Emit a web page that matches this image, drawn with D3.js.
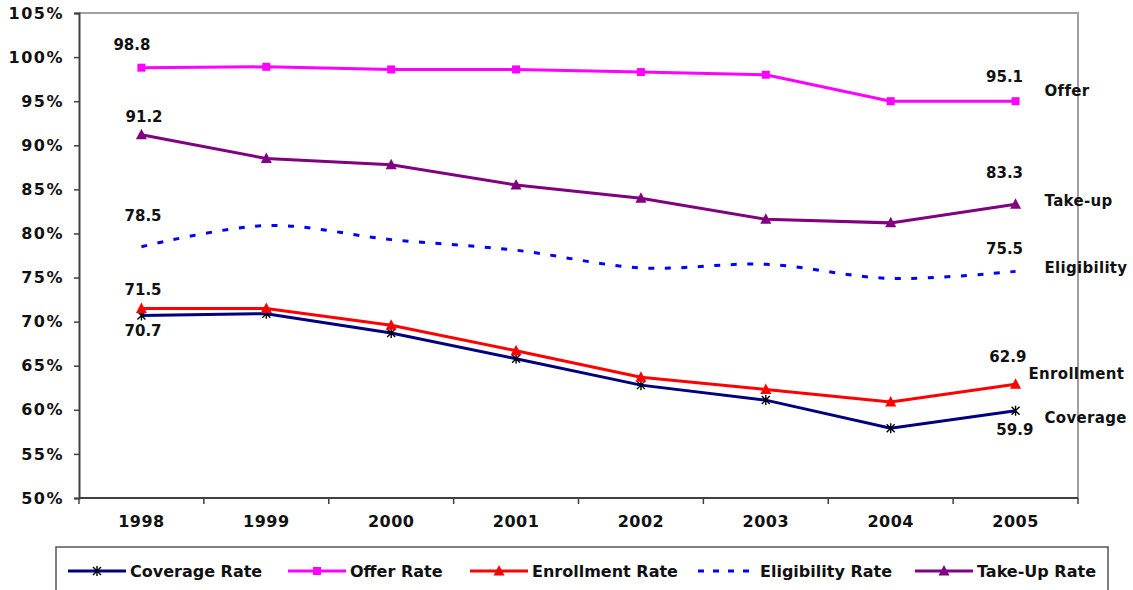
<!DOCTYPE html>
<html>
<head>
<meta charset="utf-8">
<script src="https://cdn.jsdelivr.net/npm/d3@7"></script>
<style>
  html, body { margin: 0; padding: 0; background: #fff; }
  svg { display: block; font-family: "DejaVu Sans", Verdana, sans-serif; font-weight: bold; }
</style>
</head>
<body>
<svg id="chart" width="1133" height="590"></svg>
<script>
// ---------- DATA ----------
const years = ["1998", "1999", "2000", "2001", "2002", "2003", "2004", "2005"];
const yTicks = [50, 55, 60, 65, 70, 75, 80, 85, 90, 95, 100, 105];

const coverage    = [70.7, 70.9, 68.7, 65.8, 62.8, 61.1, 57.9, 59.9];
const offer       = [98.8, 98.9, 98.6, 98.6, 98.3, 98.0, 95.0, 95.0];
const enrollment  = [71.5, 71.5, 69.6, 66.7, 63.7, 62.3, 60.9, 62.9];
const eligibility = [78.5, 80.9, 79.3, 78.1, 76.1, 76.5, 74.9, 75.7];
const takeup      = [91.2, 88.5, 87.8, 85.5, 84.0, 81.6, 81.2, 83.3];

const legendNames = ["Coverage Rate", "Offer Rate", "Enrollment Rate", "Eligibility Rate", "Take-Up Rate"];
const endNames    = ["Coverage", "Offer", "Enrollment", "Eligibility", "Take-up"];

// data labels: series index, year index, text
const dataLabels = [
  { s: 1, i: 0, text: "98.8" },
  { s: 4, i: 0, text: "91.2" },
  { s: 3, i: 0, text: "78.5" },
  { s: 2, i: 0, text: "71.5" },
  { s: 0, i: 0, text: "70.7" },
  { s: 1, i: 7, text: "95.1" },
  { s: 4, i: 7, text: "83.3" },
  { s: 3, i: 7, text: "75.5" },
  { s: 2, i: 7, text: "62.9" },
  { s: 0, i: 7, text: "59.9" }
];

// ---------- STYLES / LAYOUT ----------
const seriesValues = [coverage, offer, enrollment, eligibility, takeup];
const colors  = ["#000080", "#FF00FF", "#FF0000", "#0000FF", "#800080"];
const markers = ["star", "square", "triangle", null, "triangle"];
const dashed  = [false, false, false, true, false];
const smooth  = [false, false, false, true, false];
// label offsets (pixels) relative to the data point, per dataLabels entry
const labelOffsets = [[-9.5, -17.7], [2.6, -12.7], [1.6, -26], [1.6, -13.4], [1.6, 21],
                      [-11, -19.5], [-11, -26.4], [-11, -17.4], [-7.7, -22], [-0.7, 24]];
// end-name offsets relative to last point
const endOffsets = [[29, 12], [29, -5.5], [13, -5], [29, 1.6], [29, 1.2]];

const plot = { left: 79, right: 1078, top: 13, bottom: 498 };

const svg = d3.select("#chart");
const x = d3.scaleBand().domain(years).range([plot.left, plot.right]).padding(0);
const y = d3.scaleLinear().domain([50, 105]).range([plot.bottom, plot.top]);
const cx = d => x(d) + x.bandwidth() / 2;

// plot frame: top & right gray
svg.append("path")
  .attr("d", `M${plot.left},${plot.top} H${plot.right} V${plot.bottom}`)
  .attr("fill", "none").attr("stroke", "#a0a0a0").attr("stroke-width", 2);

// y axis
const yAxis = d3.axisLeft(y).tickValues(yTicks).tickSize(5).tickPadding(10)
  .tickFormat(d => d + "%");
const gy = svg.append("g").attr("transform", `translate(${plot.left},0)`).call(yAxis);
gy.select(".domain").attr("stroke", "#404040").attr("stroke-width", 2);
gy.selectAll(".tick line").attr("stroke", "#404040").attr("stroke-width", 1.5);
gy.selectAll(".tick text").attr("fill", "#111").style("font-size", "16px")
  .style("font-family", "DejaVu Sans, sans-serif").style("font-weight", "bold")
  .style("letter-spacing", "1.5px");

// x axis
const xAxis = d3.axisBottom(x).tickSize(0).tickPadding(18).tickSizeOuter(0);
const gx = svg.append("g").attr("transform", `translate(0,${plot.bottom})`).call(xAxis);
gx.select(".domain").attr("stroke", "#404040").attr("stroke-width", 2)
  .attr("d", `M${plot.left},0H${plot.right}`);
gx.selectAll(".tick text").attr("fill", "#111").style("font-size", "16px")
  .style("font-family", "DejaVu Sans, sans-serif").style("font-weight", "bold")
  .style("letter-spacing", "0.5px");
// boundary ticks
const bounds = years.map(d => x(d)).concat([x(years[years.length - 1]) + x.bandwidth()]);
svg.append("g").selectAll("line").data(bounds).join("line")
  .attr("x1", d => d).attr("x2", d => d)
  .attr("y1", plot.bottom).attr("y2", plot.bottom + 6)
  .attr("stroke", "#404040").attr("stroke-width", 1.5);

// marker drawing
function drawMarker(g, type, color) {
  if (type === "square") {
    g.append("rect").attr("x", -4).attr("y", -4).attr("width", 8).attr("height", 8).attr("fill", color);
  } else if (type === "triangle") {
    g.append("path").attr("d", "M0,-6 L5.5,4.5 L-5.5,4.5 Z").attr("fill", color);
  } else if (type === "star") {
    g.append("path").attr("d", "M0,-5 V5 M-4,-4 L4,4 M-4,4 L4,-4")
      .attr("stroke", "#000").attr("stroke-width", 1.4).attr("fill", "none");
  }
}

// series lines (draw order: offer, takeup, eligibility, coverage, enrollment)
const order = [1, 4, 3, 0, 2];
order.forEach(s => {
  const vals = seriesValues[s];
  const line = d3.line()
    .x((d, i) => cx(years[i]))
    .y(d => y(d))
    .curve(smooth[s] ? d3.curveCardinal.tension(0) : d3.curveLinear);
  svg.append("path").datum(vals)
    .attr("d", line)
    .attr("fill", "none")
    .attr("stroke", colors[s])
    .attr("stroke-width", 3)
    .attr("stroke-dasharray", dashed[s] ? "6,10.5" : null);
  if (markers[s]) {
    vals.forEach((v, i) => {
      const g = svg.append("g").attr("transform", `translate(${cx(years[i])},${y(v)})`);
      drawMarker(g, markers[s], colors[s]);
    });
  }
});

// data labels
svg.append("g").selectAll("text").data(dataLabels).join("text")
  .attr("x", (d, k) => cx(years[d.i]) + labelOffsets[k][0])
  .attr("y", (d, k) => y(seriesValues[d.s][d.i]) + labelOffsets[k][1])
  .attr("text-anchor", "middle")
  .attr("fill", "#111")
  .style("font-size", "15px")
  .text(d => d.text);

// end names
svg.append("g").selectAll("text").data(endNames).join("text")
  .attr("x", (d, s) => cx(years[7]) + endOffsets[s][0])
  .attr("y", (d, s) => y(seriesValues[s][7]) + endOffsets[s][1])
  .attr("fill", "#111")
  .style("font-size", "15px")
  .style("letter-spacing", "0.3px")
  .text(d => d);

// legend
const legendX = [68, 288, 470, 698, 915];
const leg = svg.append("g");
leg.append("rect").attr("x", 56).attr("y", 547).attr("width", 1052).attr("height", 60)
  .attr("fill", "#fff").attr("stroke", "#555").attr("stroke-width", 1.5);
legendNames.forEach((name, s) => {
  const lx = legendX[s], ly = 571;
  leg.append("line").attr("x1", lx).attr("x2", lx + 58).attr("y1", ly).attr("y2", ly)
    .attr("stroke", colors[s]).attr("stroke-width", 3)
    .attr("stroke-dasharray", dashed[s] ? "6,9" : null);
  if (markers[s]) {
    const g = leg.append("g").attr("transform", `translate(${lx + 29},${ly})`);
    drawMarker(g, markers[s], colors[s]);
  }
  leg.append("text").attr("x", lx + 62).attr("y", 577)
    .attr("fill", "#111").style("font-size", "16px").text(name);
});
</script>
</body>
</html>
